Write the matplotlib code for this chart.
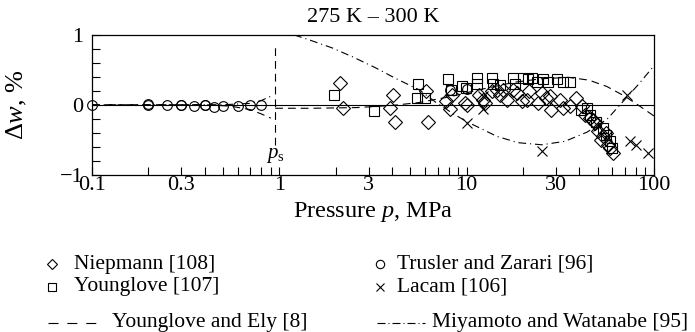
import matplotlib
matplotlib.use('Agg')
import matplotlib.pyplot as plt
from matplotlib.lines import Line2D
from matplotlib.ticker import FixedLocator, NullFormatter

plt.rcParams['font.family'] = ['Liberation Serif', 'DejaVu Serif']
plt.rcParams['mathtext.fontset'] = 'custom'
plt.rcParams['mathtext.rm'] = 'Liberation Serif'
plt.rcParams['mathtext.it'] = 'Liberation Serif:italic'

# Niepmann [108]
niep_p = [2.1, 2.2, 3.9, 4.05, 4.15, 6.05, 6.2, 7.8, 8.1, 8.3, 9.8, 10.0, 11.7, 12.2, 12.5,
          13.6, 14.5, 15.0, 15.6, 16.4, 17.7, 18.5, 19.7, 20.9, 21.5, 24.0, 25.1, 26.5, 27.7,
          28.3, 31.6, 32.7, 35.6, 38.5, 41.1, 42.9, 45.6, 47.0, 48.6, 50.4, 52.4, 53.5, 55.5,
          56.6, 58.0, 60.4]
niep_dw = [0.31, -0.04, -0.04, 0.14, -0.25, 0.19, -0.24, 0.05, -0.06, 0.14, 0.02, 0.0, 0.14, 0.07, 0.02,
           0.19, 0.21, 0.14, 0.21, 0.07, 0.21, 0.17, 0.05, 0.07, 0.19, 0.02, 0.17, 0.10, 0.12,
           -0.07, 0.07, -0.05, -0.02, 0.10, -0.02, -0.14, -0.19, -0.22, -0.26, -0.38, -0.50, -0.45, -0.40,
           -0.57, -0.62, -0.69]

# Younglove [107]
young_p = [1.95, 3.2, 5.5, 5.4, 6.0, 7.95, 8.2, 9.5, 9.9, 11.3, 11.3, 13.6, 13.9, 15.0, 17.7,
           18.1, 20.0, 21.2, 22.3, 23.7, 25.6, 27.3, 30.5, 32.7, 35.6, 40.8, 43.7, 45.6, 49.3,
           53.2, 55.5, 58.0, 60.0]
young_dw = [0.14, -0.085, 0.30, 0.10, 0.10, 0.36, 0.21, 0.26, 0.24, 0.38, 0.29, 0.38, 0.29, 0.28, 0.38,
            0.29, 0.38, 0.36, 0.38, 0.33, 0.36, 0.33, 0.36, 0.33, 0.33, -0.07, -0.05, -0.14, -0.24,
            -0.33, -0.43, -0.52, -0.62]

# Trusler and Zarari [96]
trus_p = [0.1, 0.2, 0.2, 0.25, 0.3, 0.3, 0.35, 0.4, 0.4, 0.45, 0.5, 0.6, 0.7, 0.8, 8.1, 10.0]
trus_dw = [0.0, 0.0, 0.01, -0.01, 0.0, -0.01, -0.02, 0.0, -0.01, -0.03, -0.02, -0.02, -0.01, -0.01, 0.21, 0.22]

# Lacam [106]
lacam_p = [10.1, 12.2, 12.2, 25.3, 50.0, 56.0, 71.5, 74.5, 80.0, 93.0]
lacam_dw = [-0.26, -0.06, 0.12, -0.66, -0.30, -0.45, 0.14, -0.52, -0.57, -0.69]

# Younglove and Ely [8]
ye_gas_p = [0.1, 0.4, 0.55, 0.7, 0.8, 0.9]
ye_gas_dw = [0.0, 0.0, -0.02, -0.07, -0.13, -0.19]
ye_liq_p = [0.95, 1.5, 2.6, 4.0, 5.5, 8.0, 12.0, 18.0, 25.0, 35.0, 45.0, 56.0, 70.0, 85.0, 100.0]
ye_liq_dw = [-0.05, -0.05, -0.04, -0.01, 0.03, 0.11, 0.22, 0.32, 0.37, 0.39, 0.35, 0.26, 0.12, -0.03, -0.16]

# Miyamoto and Watanabe [95]
mw_gas_p = [0.1, 0.5, 0.7, 0.8, 0.9]
mw_gas_dw = [0.0, 0.0, 0.02, 0.06, 0.12]
mw_liq_p = [1.0, 1.18, 1.44, 1.91, 2.47, 3.24, 4.14, 5.6, 6.8, 8.5, 10.0, 14.5, 18.8, 25.2, 33.5,
            43.9, 56.0, 68.0, 82.0, 99.0]
mw_liq_dw = [1.1, 1.0, 0.925, 0.81, 0.68, 0.53, 0.38, 0.21, 0.04, -0.13, -0.24, -0.45, -0.54, -0.57, -0.52,
             -0.39, -0.21, 0.04, 0.28, 0.54]

p_sat = 0.95

# dash patterns are scaled by line width
DASH = (0, (7, 4.5))
DASHDOT = (0, (7, 3.5, 1, 3.5))
LW = 0.8
W, H = 695, 332

fig = plt.figure(figsize=(6.95, 3.32), dpi=100)
ax = fig.add_axes([92 / W, 1 - 175 / H, 562 / W, 140.5 / H])

ax.axhline(0, color='black', lw=LW)

ax.plot(ye_gas_p, ye_gas_dw, color='black', lw=LW, ls=DASH)
ax.plot(ye_liq_p, ye_liq_dw, color='black', lw=LW, ls=DASH)
ax.plot([p_sat, p_sat], [-0.58, 0.85], color='black', lw=LW, ls=DASH)
ax.plot(mw_gas_p, mw_gas_dw, color='black', lw=LW, ls=DASHDOT)
ax.plot(mw_liq_p, mw_liq_dw, color='black', lw=LW, ls=DASHDOT)

mk = dict(ls='none', mfc='none', mec='black', mew=0.8, clip_on=False)
ax.plot(trus_p, trus_dw, marker='o', ms=7, **mk)
ax.plot(young_p, young_dw, marker='s', ms=7, **mk)
ax.plot(niep_p, niep_dw, marker='D', ms=7, **mk)
ax.plot(lacam_p, lacam_dw, marker='x', ms=7.5, **mk)

ax.set_xscale('log')
ax.set_xlim(0.1, 100)
ax.set_ylim(-1, 1)

major_x = [0.1, 0.3, 1, 3, 10, 30, 100]
minor_x = [m * 10.0 ** e for e in (-1, 0, 1) for m in range(2, 10) if m != 3]
ax.xaxis.set_major_locator(FixedLocator(major_x))
ax.xaxis.set_minor_locator(FixedLocator(minor_x))
ax.set_xticklabels(['0.1', '0.3', '1', '3', '10', '30', '100'])
ax.xaxis.set_minor_formatter(NullFormatter())

ax.yaxis.set_major_locator(FixedLocator([-1, 0, 1]))
ax.yaxis.set_minor_locator(FixedLocator([-0.8, -0.6, -0.4, -0.2, 0.2, 0.4, 0.6, 0.8]))
ax.set_yticklabels(['\u22121', '0', '1'])

ax.tick_params(which='both', direction='in', length=6, width=0.8, top=False, right=False,
               labelsize=16)
ax.tick_params(axis='x', pad=1)
ax.tick_params(axis='y', pad=6)
for s in ax.spines.values():
    s.set_linewidth(0.9)

ax.text(p_sat, -0.72, '$p_\\mathrm{s}$', fontsize=15, ha='center', va='center')
ax.set_title('275 K \u2013 300 K', fontsize=16, y=1.12, pad=0, va='center')
ax.set_xlabel('Pressure $p$, MPa', fontsize=17.5, va='center')
ax.xaxis.set_label_coords(0.5, -0.265)
ax.set_ylabel('$\\Delta w$, %', fontsize=19, va='center')
ax.yaxis.set_label_coords(-0.133, 0.5)

# legend block below the axes
rows = [1 - 264 / H, 1 - 287 / H, 1 - 323 / H]
fs = 15.5
sym = dict(ls='none', mfc='none', mec='black', mew=0.8, transform=fig.transFigure)
fig.add_artist(Line2D([52 / W], [rows[0]], marker='D', ms=5.5, **sym))
fig.text(74 / W, rows[0], 'Niepmann [108]', fontsize=fs, va='center')
fig.add_artist(Line2D([52 / W], [rows[1]], marker='s', ms=6, **sym))
fig.text(74 / W, rows[1], 'Younglove [107]', fontsize=fs, va='center')
fig.add_artist(Line2D([380 / W], [rows[0]], marker='o', ms=6, **sym))
fig.text(397 / W, rows[0], 'Trusler and Zarari [96]', fontsize=fs, va='center')
fig.add_artist(Line2D([380 / W], [rows[1]], marker='x', ms=6, **sym))
fig.text(397 / W, rows[1], 'Lacam [106]', fontsize=fs, va='center')
fig.add_artist(Line2D([48 / W, 97 / W], [rows[2], rows[2]], color='black', lw=LW, ls=(0, (9, 8)),
                      transform=fig.transFigure))
fig.text(112 / W, rows[2], 'Younglove and Ely [8]', fontsize=fs, va='center')
fig.add_artist(Line2D([377 / W, 425 / W], [rows[2], rows[2]], color='black', lw=LW,
                      ls=(0, (7.2, 2.7, 0.9, 2.7)), transform=fig.transFigure))
fig.text(432 / W, rows[2], 'Miyamoto and Watanabe [95]', fontsize=fs, va='center')

fig.savefig('out.png', dpi=100)
